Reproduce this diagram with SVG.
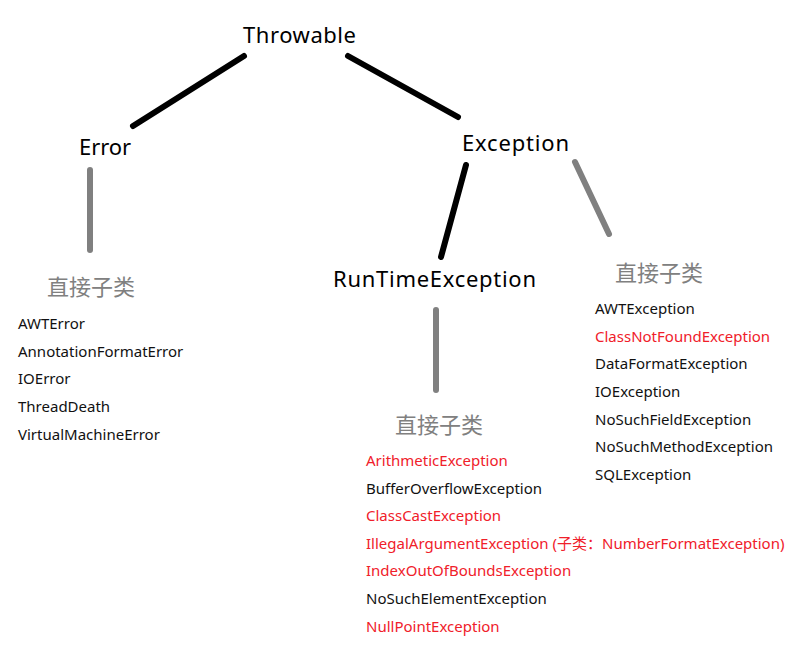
<svg xmlns="http://www.w3.org/2000/svg" width="796" height="659" viewBox="0 0 796 659">
<style>
.t{font-family:"Noto Sans","Liberation Sans","Noto Sans CJK SC",sans-serif;font-size:22px;fill:#000}
.h{font-family:"Noto Sans CJK SC","Noto Sans",sans-serif;font-size:22px;fill:#808080}
.i{font-family:"Noto Sans","Liberation Sans","Noto Sans CJK SC",sans-serif;font-size:15px;fill:#111}
.r{fill:#f0202a}
.b{stroke:#000;stroke-width:6;stroke-linecap:round;fill:none}
.g{stroke:#808080;stroke-width:6;stroke-linecap:round;fill:none}
</style>
<rect width="796" height="659" fill="#fff"/>
<g id="connectors">
<line class="b" x1="244" y1="56" x2="133" y2="126"/>
<line class="b" x1="348" y1="56" x2="458" y2="117"/>
<line class="g" x1="90" y1="170" x2="90" y2="250"/>
<line class="b" x1="466" y1="165" x2="441" y2="257"/>
<line class="g" x1="575" y1="162" x2="609" y2="234"/>
<line class="g" x1="436" y1="310" x2="436" y2="390"/>
</g>
<g id="throwable"><text class="t" x="243" y="43" textLength="113">Throwable</text></g>
<g id="error"><text class="t" x="79" y="155" textLength="52">Error</text></g>
<g id="exception"><text class="t" x="462" y="151" textLength="107">Exception</text></g>
<g id="runtimeexception"><text class="t" x="333" y="287" textLength="203">RunTimeException</text></g>
<g id="error-subclasses">
<text class="h" x="47" y="295">直接子类</text>
<text class="i" x="18" y="329">AWTError</text>
<text class="i" x="18" y="357">AnnotationFormatError</text>
<text class="i" x="18" y="384">IOError</text>
<text class="i" x="18" y="412">ThreadDeath</text>
<text class="i" x="18" y="440">VirtualMachineError</text>
</g>
<g id="exception-subclasses">
<text class="h" x="615" y="281">直接子类</text>
<text class="i" x="595" y="314">AWTException</text>
<text class="i r" x="595" y="342">ClassNotFoundException</text>
<text class="i" x="595" y="369">DataFormatException</text>
<text class="i" x="595" y="397">IOException</text>
<text class="i" x="595" y="425">NoSuchFieldException</text>
<text class="i" x="595" y="452">NoSuchMethodException</text>
<text class="i" x="595" y="480">SQLException</text>
</g>
<g id="runtime-subclasses">
<text class="h" x="395" y="433">直接子类</text>
<text class="i r" x="366" y="466">ArithmeticException</text>
<text class="i" x="366" y="494">BufferOverflowException</text>
<text class="i r" x="366" y="521">ClassCastException</text>
<text class="i r" x="366" y="549">IllegalArgumentException (子类：NumberFormatException)</text>
<text class="i r" x="366" y="576">IndexOutOfBoundsException</text>
<text class="i" x="366" y="604">NoSuchElementException</text>
<text class="i r" x="366" y="632">NullPointException</text>
</g>
</svg>
